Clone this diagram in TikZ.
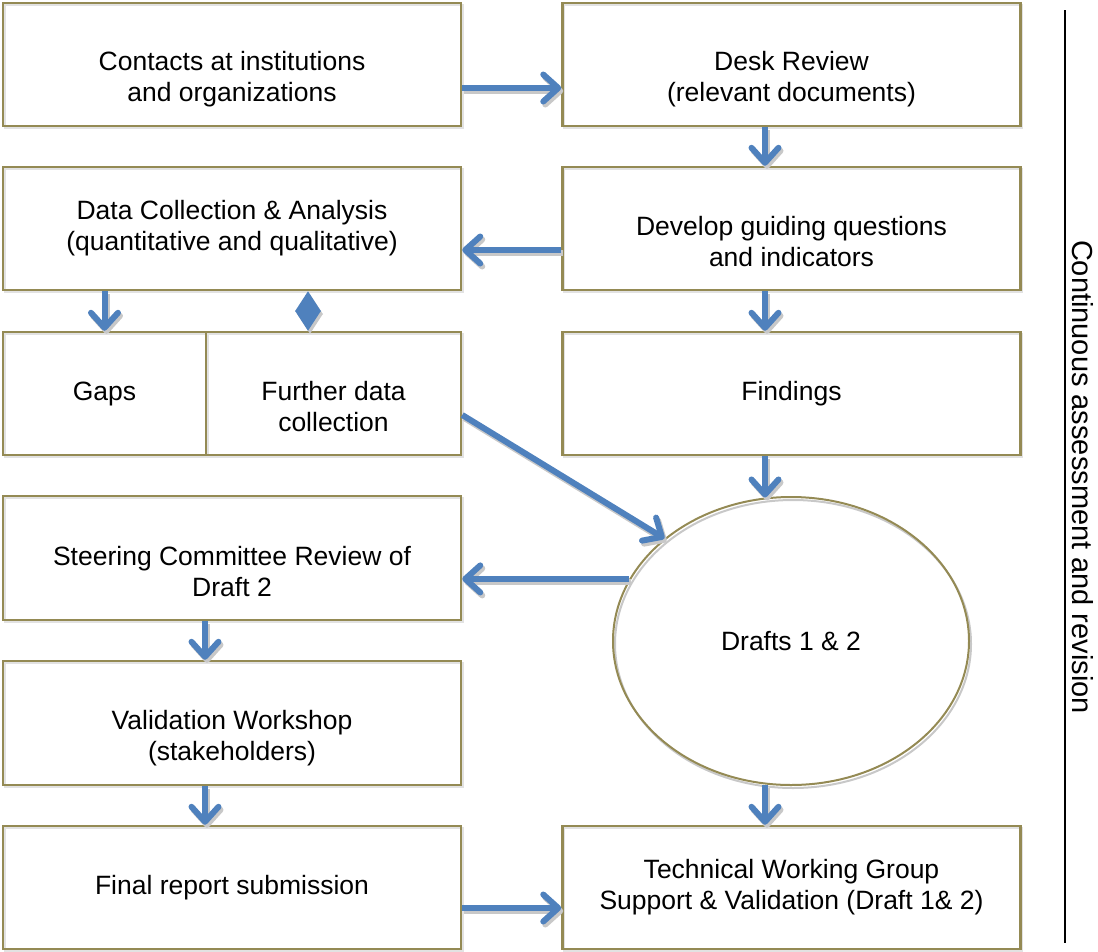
\documentclass[tikz,border=0pt]{standalone}
\usepackage{fontspec}
\setmainfont{Liberation Sans}
\usetikzlibrary{arrows.meta,shapes.geometric,calc}
\definecolor{boxline}{HTML}{948A54}
\definecolor{arrblue}{HTML}{4F81BD}
\definecolor{shadowgray}{HTML}{C8C8C8}
\definecolor{boxshadow}{HTML}{E2E2E2}
\tikzset{
  txt/.style={font=\fontsize{26.5}{31}\selectfont, align=center},
  box/.style={draw=boxline, line width=2.5pt, minimum width=458pt, minimum height=123pt,
    inner sep=0pt, txt,
    preaction={draw=boxshadow, line width=2pt, transform canvas={shift={(1.5pt,-2pt)}}}},
  tipa/.style={-{Straight Barb[length=15pt,width=27pt,line cap=round,line join=round]}},
  arr/.style={draw=arrblue, line width=6pt, tipa,
    preaction={draw=shadowgray, line width=6pt, tipa, transform canvas={shift={(2pt,-3pt)}}}},
  tipd/.style={{Triangle[length=20pt,width=26pt,line width=0pt]}-{Triangle[length=20pt,width=26pt,line width=0pt]}},
  dbl/.style={draw=arrblue, fill=arrblue, line width=6pt, tipd,
    preaction={draw=shadowgray, fill=shadowgray, line width=6pt, tipd, transform canvas={shift={(2pt,-3pt)}}}},
}
\begin{document}
\begin{tikzpicture}[x=1pt,y=-1pt]
\useasboundingbox (0,0) rectangle (1098,951);

% boxes
\node[box, label={[txt,yshift=-15pt]center:{Contacts at institutions\\and organizations}}] (contacts) at (232,64.5) {};
\node[box, label={[txt,yshift=-15pt]center:{Desk Review\\(relevant documents)}}] (desk) at (791.5,64.5) {};
\node[box] (datacol) at (232,228.5) {Data Collection \& Analysis\\(quantitative and qualitative)};
\node[box, label={[txt,yshift=-13pt]center:{Develop guiding questions\\and indicators}}] (develop) at (791.5,228.5) {};
\node[box, minimum width=203pt] (gaps) at (104.5,393.5) {Gaps};
\node[box, minimum width=255pt, label={[txt,yshift=-13pt]center:{Further data\\collection}}] (further) at (333.5,393.5) {};
\node[box] (findings) at (791.5,393.5) {Findings};
\node[box, minimum height=124pt, label={[txt,yshift=-14pt]center:{Steering Committee Review of\\Draft 2}}] (steering) at (232,558) {};
\node[box, minimum height=124pt, label={[txt,yshift=-15.5pt]center:{Validation Workshop\\(stakeholders)}}] (valid) at (232,723) {};
\node[box] (final) at (232,887.5) {Final report submission};
\node[box] (twg) at (791.5,887.5) {Technical Working Group\\Support \& Validation (Draft 1\& 2)};

% ellipse
\node[ellipse, draw=boxline, line width=2pt, minimum width=356pt, minimum height=288pt, inner sep=0pt, txt,
  preaction={draw=shadowgray, line width=2pt, transform canvas={shift={(2pt,-3pt)}}}] (drafts) at (791,641) {Drafts 1 \& 2};

% connectors
\coordinate (fs) at ($(findings.south)+(-26.5,0)$);
\coordinate (tn) at ($(twg.north)+(-26.5,0)$);
\draw[arr] ($(contacts.east)+(0,23.5)$) -- ($(desk.west)+(0,23.5)$);
\draw[arr] ($(desk.south)+(-26.5,0)$) -- ($(develop.north)+(-26.5,0)$);
\draw[arr] ($(develop.west)+(0,21.5)$) -- ($(datacol.east)+(0,21.5)$);
\draw[arr] (gaps.north |- datacol.south) -- (gaps.north);
\draw[dbl] ($(datacol.south)+(76,0)$) -- ($(further.north)+(-25.5,0)$);
\draw[arr] ($(develop.south)+(-26.5,0)$) -- ($(findings.north)+(-26.5,0)$);
\draw[arr] ($(further.east)+(0,21.5)$) -- (drafts.141);
\draw[arr] (fs) -- (fs |- drafts.100);
\draw[arr] (drafts.159) -- (steering.east |- drafts.159);
\draw[arr] ($(steering.south)+(-27,0)$) -- ($(valid.north)+(-27,0)$);
\draw[arr] ($(valid.south)+(-27,0)$) -- ($(final.north)+(-27,0)$);
\draw[arr] (tn |- drafts.260) -- (tn);
\draw[arr] ($(final.east)+(0,20.5)$) -- ($(twg.west)+(0,20.5)$);

% side bar
\coordinate (ltop) at (1065,10);
\coordinate (lbot) at (1065,943);
\draw[line width=2pt] (ltop) -- (lbot);
\node[rotate=-90, font=\fontsize{29}{33}\selectfont] (side) at (1083,477) {Continuous assessment and revision};
\end{tikzpicture}
\end{document}
